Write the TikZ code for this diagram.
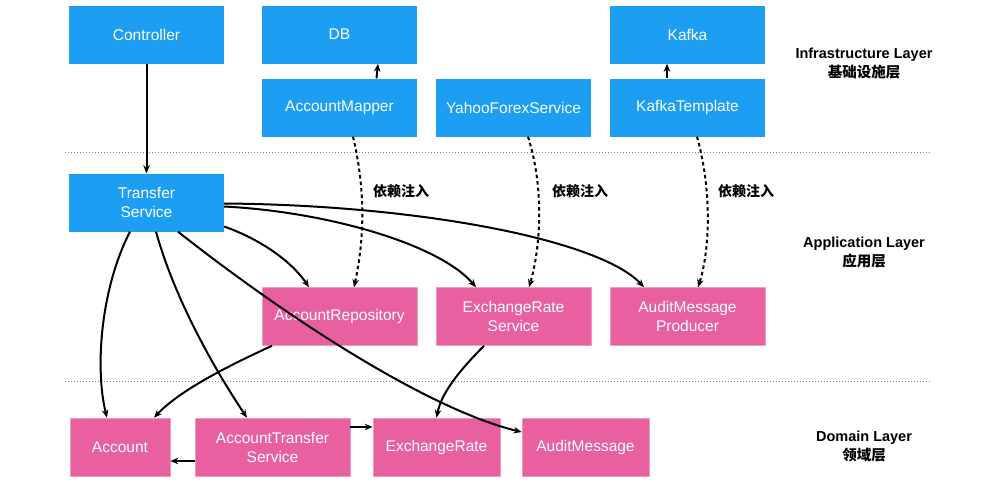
\documentclass[tikz,border=0pt]{standalone}
\usepackage{fontspec}
\setmainfont{Liberation Sans}
\newfontfamily\cjk{Noto Sans CJK SC}
\usetikzlibrary{arrows.meta}
\definecolor{bluebox}{HTML}{1C9EF2}
\definecolor{pinkbox}{HTML}{E8609F}
\tikzset{
 box/.style={rectangle, inner sep=0pt, text=white, font=\fontsize{15.5}{19}\selectfont, align=center, minimum height=58pt},
 bbox/.style={box, fill=bluebox, minimum width=155pt},
 pbox/.style={box, fill=pinkbox, draw=pinkbox!65!white, line width=0.6pt},
 arr/.style={-{Stealth[length=8pt,width=6.5pt]}, line width=2pt},
 dep/.style={arr, dash pattern=on 3.5pt off 3pt},
 sep/.style={gray, line width=0.8pt, dash pattern=on 1pt off 2pt},
 layer/.style={font=\fontsize{14.5}{19}\selectfont\bfseries, align=center},
 cn/.style={font=\fontsize{14}{16}\selectfont\cjk\bfseries}
}
\begin{document}
\begin{tikzpicture}[x=1pt,y=-1pt]
\useasboundingbox (0,0) rectangle (1000,482);
% separators
\draw[sep] (65,152) -- (931,152);
\draw[sep] (65,381) -- (931,381);
% infrastructure
\node[bbox] (ctrl) at (146.5,34.5) {Controller};
\node[bbox] (db) at (339.5,34.5) {DB};
\node[bbox] (mapper) at (339.5,107.5) {AccountMapper};
\node[bbox] (yahoo) at (513.5,107.5) {YahooForexService};
\node[bbox] (kafka) at (687.5,34.5) {Kafka};
\node[bbox] (ktpl) at (687.5,107.5) {KafkaTemplate};
% application
\node[bbox] (transfer) at (146.5,202.5) {Transfer\\Service};
\node[pbox, minimum width=155pt] (repo) at (339.5,316.5) {AccountRepository};
\node[pbox, minimum width=155pt] (ers) at (513.5,316.5) {ExchangeRate\\Service};
\node[pbox, minimum width=155pt] (amp) at (687.5,316.5) {AuditMessage\\Producer};
% domain
\node[pbox, minimum width=100pt] (account) at (120,447) {Account};
\node[pbox, minimum width=155pt] (ats) at (272.5,447) {AccountTransfer\\Service};
\node[pbox, minimum width=127pt] (er) at (436.5,447) {ExchangeRate};
\node[pbox, minimum width=127pt] (am) at (585.5,447) {AuditMessage};
% layer labels
\node[layer] (l1) at (864,63.5) {Infrastructure Layer\\{\cjk 基础设施层}};
\node[layer] (l2) at (864,253) {Application Layer\\{\cjk 应用层}};
\node[layer] (l3) at (864,447) {Domain Layer\\{\cjk 领域层}};
% dependency labels
\node[cn] (d1) at (401,191) {依赖注入};
\node[cn] (d2) at (580,191) {依赖注入};
\node[cn] (d3) at (746,191) {依赖注入};
% connectors
\draw[arr] (ctrl) -- (transfer);
\draw[arr] ([xshift=37pt]mapper.north) -- ([xshift=38.5pt]db.south);
\draw[arr] ([xshift=-20.5pt]ktpl.north) -- ([xshift=-20.5pt]kafka.south);
\draw[dep] ([xshift=13.5pt]mapper.south) .. controls (368,200) and (362,250) .. ([xshift=14.5pt]repo.north);
\draw[dep] ([xshift=14.5pt]yahoo.south) .. controls (545,190) and (540,250) .. ([xshift=15.5pt]ers.north);
\draw[dep] ([xshift=9.5pt]ktpl.south) .. controls (712,190) and (710,250) .. ([xshift=10.5pt]amp.north);
\draw[arr] ([yshift=-1pt]transfer.east) .. controls (420,205) and (600,240) .. ([xshift=-43.5pt]amp.north);
\draw[arr] ([yshift=-4pt]transfer.east) .. controls (330,212) and (440,245) .. ([xshift=-37.5pt]ers.north);
\draw[arr] ([yshift=-24pt]transfer.east) .. controls (262,240) and (292,262) .. ([xshift=-30.5pt]repo.north);
\draw[arr] ([xshift=31.5pt]transfer.south) .. controls (290,320) and (430,410) .. ([yshift=15pt]am.west);
\draw[arr] ([xshift=-16.5pt]transfer.south) .. controls (100,290) and (95,370) .. ([xshift=-13pt]account.north);
\draw[arr] ([xshift=9.5pt]transfer.south) .. controls (175,300) and (215,370) .. ([xshift=-25.5pt]ats.north);
\draw[arr] ([xshift=-67.5pt]repo.south) .. controls (230,365) and (180,390) .. ([xshift=34pt]account.north);
\draw[arr] ([xshift=-29.5pt]ers.south) .. controls (465,365) and (442,390) .. (er.north);
\draw[arr] ([yshift=20pt]ats.east) -- ([yshift=20pt]er.west);
\draw[arr] ([yshift=-14pt]ats.west) -- ([yshift=-14pt]account.east);
\end{tikzpicture}
\end{document}
